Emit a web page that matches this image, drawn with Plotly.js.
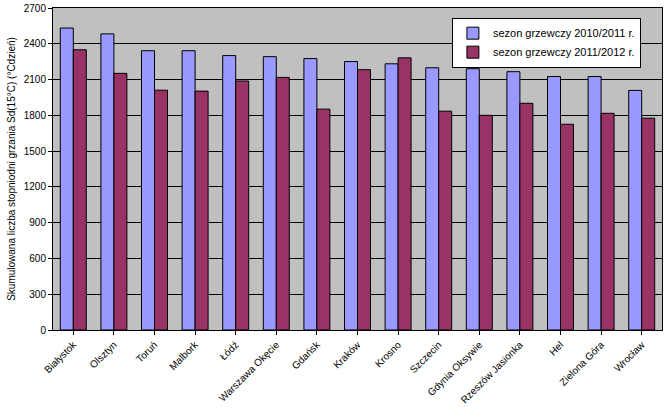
<!DOCTYPE html>
<html>
<head>
<meta charset="utf-8">
<script src="https://cdn.plot.ly/plotly-3.0.1.min.js"></script>
<style>body{margin:0;background:#fff}#chart{width:667px;height:414px}</style>
</head>
<body>
<div id="chart"></div>
<script>
const stations = ['Białystok', 'Olsztyn', 'Toruń', 'Malbork', 'Łódź', 'Warszawa Okęcie', 'Gdańsk', 'Kraków',
  'Krosno', 'Szczecin', 'Gdynia Oksywie', 'Rzeszów Jasionka', 'Hel', 'Zielona Góra', 'Wrocław'];
const season1011 = [2532, 2483, 2342, 2342, 2301, 2292, 2276, 2251, 2232, 2199, 2191, 2166, 2125, 2125, 2009];
const season1112 = [2350, 2152, 2011, 2003, 2088, 2118, 1852, 2183, 2282, 1835, 1800, 1901, 1725, 1817, 1776];
const yTicks = [0, 300, 600, 900, 1200, 1500, 1800, 2100, 2400, 2700];

const FONT = 'Liberation Sans, Arial, sans-serif';

const traces = [
  {
    name: 'sezon grzewczy 2010/2011 r.',
    type: 'bar',
    x: stations,
    y: season1011,
    marker: { color: '#9999FF', line: { color: '#000', width: 1 } },
  },
  {
    name: 'sezon grzewczy 2011/2012 r.',
    type: 'bar',
    x: stations,
    y: season1112,
    marker: { color: '#993366', line: { color: '#000', width: 1 } },
  },
];

const layout = {
  width: 667,
  height: 414,
  paper_bgcolor: '#fff',
  plot_bgcolor: '#C0C0C0',
  font: { family: FONT, size: 10, color: '#000' },
  margin: { t: 8, r: 5, b: 84, l: 53 },
  barmode: 'group',
  bargap: 0.36,
  bargroupgap: 0,
  showlegend: true,
  legend: {
    x: 0.655, y: 0.97, xanchor: 'left', yanchor: 'top',
    bgcolor: '#fff', bordercolor: '#000', borderwidth: 1,
    font: { family: FONT, size: 11 },
    itemwidth: 30,
    tracegroupgap: 0,
  },
  xaxis: {
    tickangle: -45,
    ticks: 'outside', ticklen: 4, tickcolor: '#000',
    showline: true, linecolor: '#000', mirror: true,
    tickfont: { family: FONT, size: 10 },
  },
  yaxis: {
    range: [0, 2700],
    tickvals: yTicks,
    ticks: 'outside', ticklen: 4, tickcolor: '#000',
    showline: true, linecolor: '#000', mirror: true,
    gridcolor: '#000', gridwidth: 1,
    tickfont: { family: FONT, size: 10 },
    title: { text: 'Skumulowana liczba stopniodni grzania Sd(15°C) (°Cdzień)', font: { family: FONT, size: 10 }, standoff: 6 },
  },
};

Plotly.newPlot('chart', traces, layout, { displayModeBar: false });
</script>
</body>
</html>
